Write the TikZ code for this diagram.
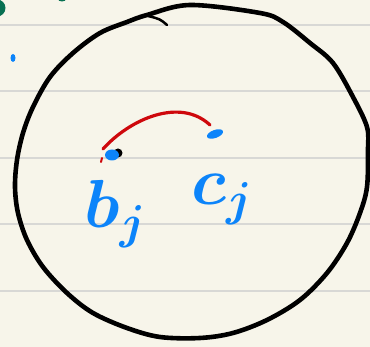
\RequirePackage{fix-cm}
\documentclass[tikz,border=0pt]{standalone}
\usepackage{amsmath}
\usetikzlibrary{positioning}
\definecolor{paper}{RGB}{247,245,234}
\definecolor{ruling}{RGB}{216,216,213}
\definecolor{inkblue}{RGB}{12,132,250}
\definecolor{inkred}{RGB}{206,8,12}
\definecolor{inkgreen}{RGB}{8,112,82}

\begin{document}
\begin{tikzpicture}[x=1pt,y=1pt]
	\tikzset{
		rule/.style={ruling, line width=1.6pt},
		ink/.style={line width=4.6pt, line cap=round, line join=round},
		redline/.style={inkred, line width=3.2pt, line cap=round},
		handlabel/.style={inkblue, inner sep=0pt, anchor=base west, font=\fontsize{68}{68}\selectfont}
	}
	\useasboundingbox (0,0) rectangle (370,347);
	\fill[paper] (0,0) rectangle (370,347);
	\clip (0,0) rectangle (370,347);
	% ruled paper
	\foreach \y in {322,256,189,123,56} {
		\draw[rule] (0,\y) -- (370,\y);
	}
	% margin marks
	\fill[inkgreen] (-3,339) circle (8.5);
	\fill[inkgreen] (62,348) ellipse [x radius=4, y radius=2.5];
	\fill[inkblue] (13,289) ellipse [x radius=2.5, y radius=4];
	% the big loop
	\draw[ink] plot[smooth cycle, tension=0.55] coordinates {
		(147,332) (190,342) (260,334) (283,325) (310,304) (333,284) (353,250)
		(367,220) (368,197) (367,160) (360,134) (347,104) (327,74) (300,47)
		(267,27) (233,14) (200,9) (160,10) (127,19) (93,34) (67,54) (43,80)
		(27,107) (18,134) (15,160) (17,187) (23,214) (33,240) (50,270)
		(73,294) (100,314) (127,325)};
	\draw[ink, line width=2.5pt] (148,331) .. controls (160,328) .. (167,322);
	% points
	\coordinate (bj) at (112,192);
	\coordinate (cj) at (215,213);
	\fill[black] ([shift={(6,2)}]bj) circle (4.5);
	\fill[inkblue] (bj) ellipse [x radius=7, y radius=5.5];
	\fill[inkblue, rotate around={20:(cj)}] (cj) ellipse [x radius=8.5, y radius=4];
	% red arc
	\coordinate (redA) at ([shift={(-9,6)}]bj);
	\coordinate (redB) at ([shift={(-5,9)}]cj);
	\draw[redline] (redA) .. controls (130,228) and (180,250) .. (redB);
	\draw[redline, line width=2pt] ([shift={(-10,-3)}]bj) -- ([shift={(-11,-7)}]bj);
	% labels
	\node[handlabel] (bjlabel) at (84,119) {$\boldsymbol{b_j}$};
	\node[handlabel] (cjlabel) at (191,142) {$\boldsymbol{c_j}$};
\end{tikzpicture}
\end{document}
